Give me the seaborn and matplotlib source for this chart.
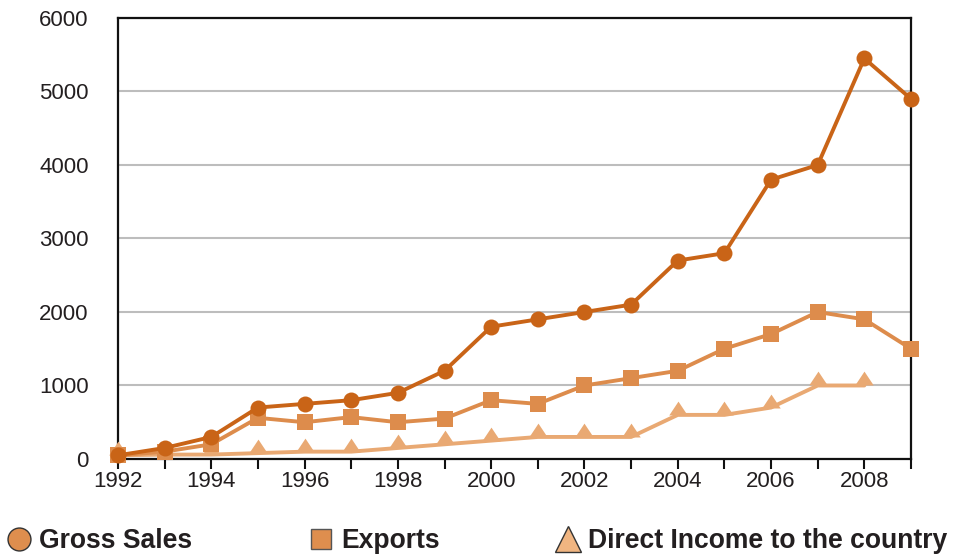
"""Line chart: gross sales, exports and direct income by year."""

import numpy as np
import pandas as pd
import matplotlib
matplotlib.use("Agg")
import matplotlib.pyplot as plt
from matplotlib.lines import Line2D
from matplotlib.path import Path
import seaborn as sns

years = list(range(1992, 2010))
gross_sales = [50, 150, 300, 700, 750, 800, 900, 1200, 1800, 1900, 2000, 2100,
               2700, 2800, 3800, 4000, 5450, 4900]
exports = [50, 100, 200, 560, 500, 570, 500, 550, 800, 750, 1000, 1100,
           1200, 1500, 1700, 2000, 1900, 1500]
direct_income = [50, 60, 60, 80, 100, 100, 150, 200, 250, 300, 300, 300,
                 600, 600, 700, 1000, 1000, np.nan]
series_names = ["Gross Sales", "Exports", "Direct Income to the country"]
y_ticks = [0, 1000, 2000, 3000, 4000, 5000, 6000]

c_gross = "#C96417"
c_exports = "#DD8C4C"
c_direct = "#E9A973"

# triangle whose base sits on the data point
tri_marker = Path([(-1.0, 0.0), (1.0, 0.0), (0.0, 1.5), (-1.0, 0.0)],
                  [Path.MOVETO, Path.LINETO, Path.LINETO, Path.CLOSEPOLY])

df = pd.DataFrame({"year": years, "gross": gross_sales,
                   "exports": exports, "direct": direct_income})

sns.set_theme(style="white")
plt.rcParams["font.family"] = ["Liberation Sans", "DejaVu Sans"]

fig = plt.figure(figsize=(9.68, 5.59), dpi=100)
ax = fig.add_axes([0.1219, 0.1789, 0.8192, 0.7889])

sns.lineplot(data=df, x="year", y="direct", ax=ax, color=c_direct, linewidth=2.8,
             marker=tri_marker, markersize=20, markeredgewidth=0, clip_on=False, zorder=3)
sns.lineplot(data=df, x="year", y="exports", ax=ax, color=c_exports, linewidth=2.8,
             marker="s", markersize=11, markeredgewidth=0, clip_on=False, zorder=4)
sns.lineplot(data=df, x="year", y="gross", ax=ax, color=c_gross, linewidth=2.8,
             marker="o", markersize=11.5, markeredgewidth=0, clip_on=False, zorder=5)

ax.set_xlim(1992, 2009)
ax.set_ylim(0, 6000)
ax.set_yticks(y_ticks)
ax.set_yticklabels([str(v) for v in y_ticks])
ax.set_xticks(years)
ax.set_xticklabels([str(y) if y % 2 == 0 else "" for y in years])
ax.set_xlabel("")
ax.set_ylabel("")

ax.yaxis.grid(True, color="#BDBDBD", linewidth=1.5)
ax.xaxis.grid(False)
ax.set_axisbelow(True)
for side in ["left", "right", "bottom", "top"]:
    ax.spines[side].set_visible(True)
    ax.spines[side].set_color("#111111")
    ax.spines[side].set_linewidth(1.6)

ax.tick_params(axis="y", length=0, pad=21, labelsize=16, labelcolor="#231F20")
ax.tick_params(axis="x", direction="out", length=7, width=1.5, color="#111111",
               bottom=True, pad=2, labelsize=16, labelcolor="#231F20")

handles = [
    Line2D([], [], linestyle="none", marker="o", markersize=16.5,
           markerfacecolor="#DE8E4E", markeredgecolor="#333333", markeredgewidth=1),
    Line2D([], [], linestyle="none", marker="s", markersize=15,
           markerfacecolor="#DE8E4E", markeredgecolor="#555555", markeredgewidth=1),
    Line2D([], [], linestyle="none", marker="^", markersize=19,
           markerfacecolor="#F0B581", markeredgecolor="#333333", markeredgewidth=1),
]
leg = fig.legend(handles, series_names, loc="center left",
                 bbox_to_anchor=(0.002, 1 - 541 / 559),
                 ncol=3, frameon=False, handlelength=0.9, handletextpad=0.3,
                 columnspacing=4.4, borderaxespad=0, borderpad=0.2,
                 prop={"weight": "bold", "size": 19.1})
for t in leg.get_texts():
    t.set_color("#231F20")

fig.savefig("out.png", dpi=100, facecolor="white")
plt.close(fig)
